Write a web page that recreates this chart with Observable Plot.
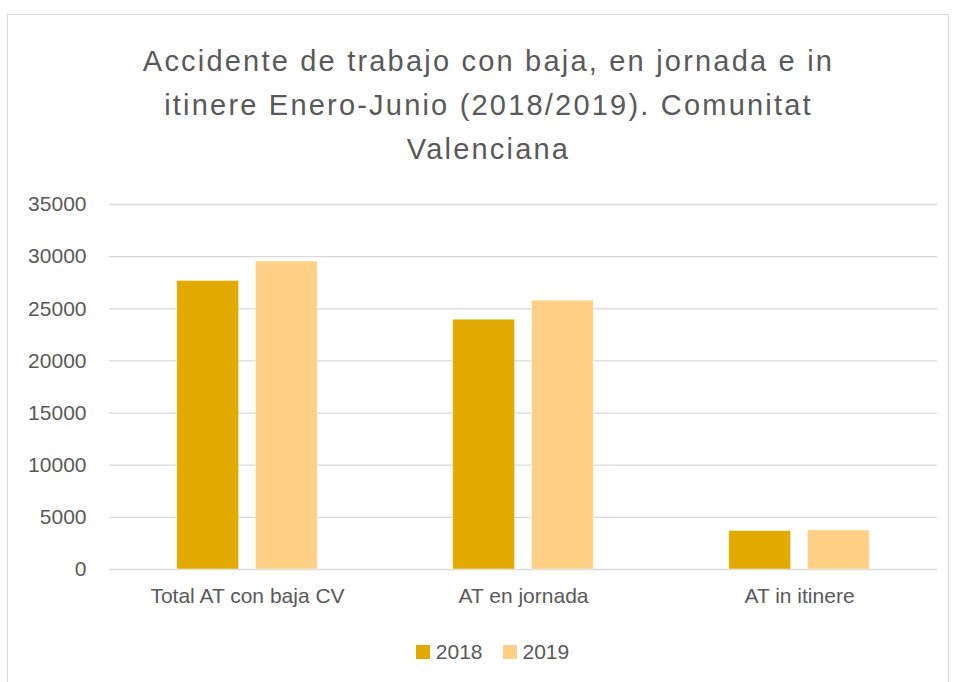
<!DOCTYPE html>
<html>
<head>
<meta charset="utf-8">
<script src="https://cdn.jsdelivr.net/npm/d3@7"></script>
<script src="https://cdn.jsdelivr.net/npm/@observablehq/plot@0.6"></script>
<style>
  html, body { margin: 0; padding: 0; background: #fff; }
  body { width: 955px; height: 682px; position: relative; overflow: hidden; font-family: "Liberation Sans", Arial, sans-serif; color: #595959; }
  #frame { position: absolute; left: 7px; top: 14px; width: 942px; height: 700px; border: 1px solid #d9d9d9; box-sizing: border-box; }
  #title { position: absolute; left: 11px; width: 955px; top: 39px; text-align: center; font-size: 29px; line-height: 44px; letter-spacing: 2.2px; color: #595959; }
  #chart { position: absolute; left: 0; top: 180px; }
  #legend { position: absolute; top: 640px; left: 15px; width: 955px; display: flex; justify-content: center; gap: 20px; font-size: 21px; color: #595959; }
  #legend .item { display: flex; align-items: center; gap: 6px; }
  #legend .sw { width: 14px; height: 14px; display: inline-block; }
</style>
</head>
<body>
<div id="frame"></div>
<div id="title">Accidente de trabajo con baja, en jornada e in<br>itinere Enero-Junio (2018/2019). Comunitat<br>Valenciana</div>
<div id="chart"></div>
<div id="legend"></div>
<script>
const categories = ["Total AT con baja CV", "AT en jornada", "AT in itinere"];
const years = ["2018", "2019"];
const values2018 = [27660, 23950, 3690];
const values2019 = [29530, 25770, 3750];
const yTicks = [0, 5000, 10000, 15000, 20000, 25000, 30000, 35000];
const colors = ["#E2AA00", "#FFD086"];

const data = [];
categories.forEach((c, i) => {
  data.push({category: c, year: years[0], value: values2018[i]});
  data.push({category: c, year: years[1], value: values2019[i]});
});

const chart = Plot.plot({
  width: 955,
  height: 434,
  marginTop: 24,
  marginBottom: 45,
  marginLeft: 108,
  marginRight: 17,
  style: {fontFamily: "'Liberation Sans', Arial, sans-serif", color: "#595959", background: "transparent"},
  fx: {domain: categories, padding: 0, label: null},
  x: {domain: years, paddingInner: 0.215, paddingOuter: 0.86, round: false, axis: null},
  y: {domain: [0, 35000], label: null},
  color: {domain: years, range: colors},
  marks: [
    Plot.ruleY(yTicks, {stroke: "#d9d9d9", strokeWidth: 1.3}),
    Plot.barY(data, {fx: "category", x: "year", y: "value", fill: "year", stroke: "#fff", strokeOpacity: 0.4, strokeWidth: 1}),
    Plot.axisY({ticks: yTicks, tickSize: 0, tickPadding: 23, tickFormat: d3.format("d"), fontSize: 21, label: null, fill: "#595959"}),
    Plot.axisFx({anchor: "bottom", tickSize: 0, tickPadding: 19, fontSize: 21, label: null, fill: "#595959"})
  ]
});
document.getElementById("chart").appendChild(chart);

const legend = document.getElementById("legend");
years.forEach((y, i) => {
  const it = document.createElement("div");
  it.className = "item";
  const sw = document.createElement("span");
  sw.className = "sw";
  sw.style.background = colors[i];
  const t = document.createElement("span");
  t.textContent = y;
  it.appendChild(sw);
  it.appendChild(t);
  legend.appendChild(it);
});
</script>
</body>
</html>
